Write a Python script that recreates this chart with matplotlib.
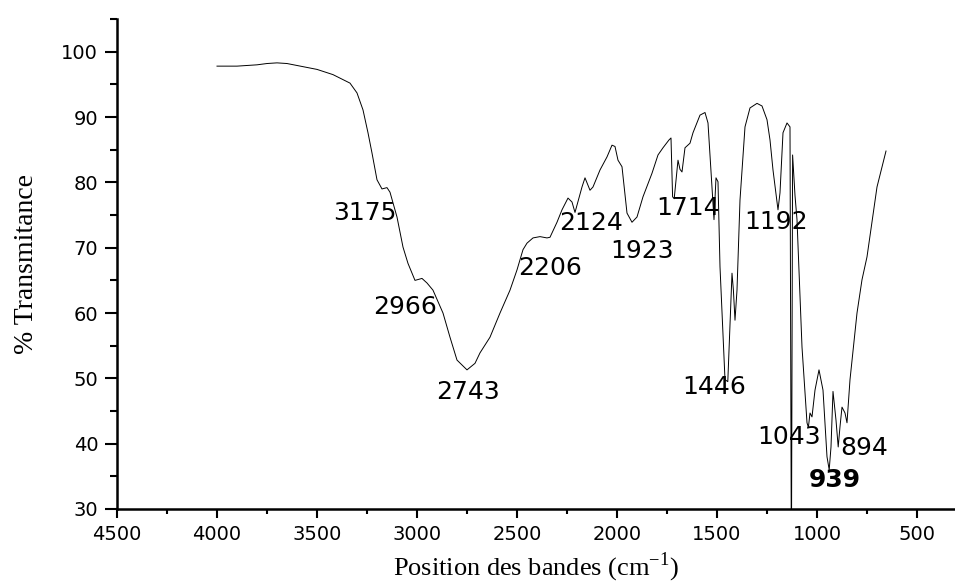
import matplotlib
matplotlib.use("Agg")
import matplotlib.pyplot as plt
from matplotlib.ticker import MultipleLocator

# IR spectrum (cm-1, % transmittance)
wavenumber = [
    4000, 3900, 3800, 3750, 3700, 3650, 3600, 3500, 3420, 3335, 3300, 3270,
    3245, 3225, 3200, 3175, 3150, 3135, 3100, 3070, 3045, 3010, 2975, 2950,
    2920, 2870, 2835, 2800, 2750, 2710, 2685, 2635, 2585, 2535, 2500, 2470,
    2450, 2420, 2385, 2350, 2335, 2300, 2275, 2245, 2225, 2210, 2175, 2160,
    2135, 2120, 2085, 2050, 2025, 2010, 1995, 1975, 1950, 1925, 1900, 1870,
    1825, 1795, 1770, 1740, 1730, 1722, 1714, 1695, 1685, 1675, 1660, 1635,
    1620, 1585, 1560, 1545, 1525, 1515, 1505, 1495, 1485, 1460, 1446, 1435,
    1425, 1418, 1410, 1400, 1385, 1360, 1335, 1300, 1275, 1250, 1235, 1220,
    1195, 1185, 1170, 1150, 1135, 1128, 1122, 1110, 1100, 1075, 1050, 1043,
    1035, 1025, 1010, 990, 970, 950, 939, 930, 920, 905, 894, 885,
    875, 860, 850, 835, 800, 775, 750, 700, 655,
]
transmittance = [
    97.8, 97.8, 98.0, 98.2, 98.3, 98.2, 97.9, 97.3, 96.5, 95.2, 93.7, 91.1,
    87.6, 84.5, 80.4, 79.0, 79.2, 78.5, 74.7, 70.1, 67.6, 65.0, 65.3, 64.6,
    63.5, 60.0, 56.3, 52.8, 51.3, 52.3, 53.9, 56.3, 60.0, 63.5, 66.6, 69.7,
    70.7, 71.5, 71.7, 71.5, 71.6, 73.9, 75.8, 77.6, 77.0, 75.4, 79.3, 80.7,
    78.8, 79.3, 81.9, 83.9, 85.7, 85.5, 83.4, 82.4, 75.3, 73.9, 74.7, 77.8,
    81.4, 84.2, 85.3, 86.5, 86.8, 77.8, 77.5, 83.4, 82.0, 81.6, 85.3, 86.0,
    87.6, 90.3, 90.7, 89.1, 79.3, 74.3, 80.7, 80.1, 67.1, 49.8, 49.5, 58.0,
    66.1, 63.5, 58.9, 63.5, 77.3, 88.5, 91.4, 92.1, 91.7, 89.6, 86.5, 81.9,
    75.8, 78.4, 87.6, 89.1, 88.5, 20.0, 84.2, 78.0, 74.3, 54.8, 43.2, 42.5,
    44.7, 44.1, 48.2, 51.3, 48.2, 38.0, 36.0, 39.5, 48.0, 43.6, 39.5, 42.6,
    45.6, 44.7, 43.2, 49.8, 60.0, 65.1, 68.6, 79.3, 84.8,
]

band_labels = ["3175", "2966", "2743", "2206", "2124", "1923",
               "1714", "1192", "1446", "1043", "894", "939"]
label_x = [3260, 3060, 2745, 2335, 2130, 1875, 1645, 1205, 1515, 1140, 765, 910]
label_y = [75.3, 60.9, 47.9, 66.9, 73.8, 69.5, 76.1, 74.0, 48.7, 41.0, 39.3, 34.4]
label_bold = [False] * 11 + [True]

fig = plt.figure(figsize=(9.55, 5.86), dpi=100)
ax = fig.add_axes([0.1225, 0.1314, 0.8775, 0.836])

ax.plot(wavenumber, transmittance, color="black", lw=0.7)

for text, x, y, bold in zip(band_labels, label_x, label_y, label_bold):
    ax.text(x, y, text, ha="center", va="center", fontsize=18,
            fontweight="bold" if bold else "normal", family="DejaVu Sans")

ax.set_xlim(4500, 310)
ax.set_ylim(30, 105)
ax.set_xticks(range(4500, 400, -500))
ax.set_yticks(range(30, 101, 10))
ax.xaxis.set_minor_locator(MultipleLocator(250))
ax.yaxis.set_minor_locator(MultipleLocator(5))

for side in ("top", "right"):
    ax.spines[side].set_visible(False)
for side in ("left", "bottom"):
    ax.spines[side].set_linewidth(1.8)

ax.tick_params(axis="x", which="major", direction="out", length=6.5, width=1.5,
               labelsize=14, pad=5)
ax.tick_params(axis="x", which="minor", direction="out", length=3.5, width=1.5)
ax.tick_params(axis="y", which="major", direction="out", length=8.5, width=1.5,
               labelsize=14, pad=5)
ax.tick_params(axis="y", which="minor", direction="out", length=5, width=1.5)

ax.set_xlabel("Position des bandes (cm$^{\\mathregular{-1}}$)",
              family="Liberation Serif", fontsize=19, labelpad=5)
ax.set_ylabel("% Transmitance", family="Liberation Serif", fontsize=20,
              labelpad=16)

fig.savefig("out.png", dpi=100)
